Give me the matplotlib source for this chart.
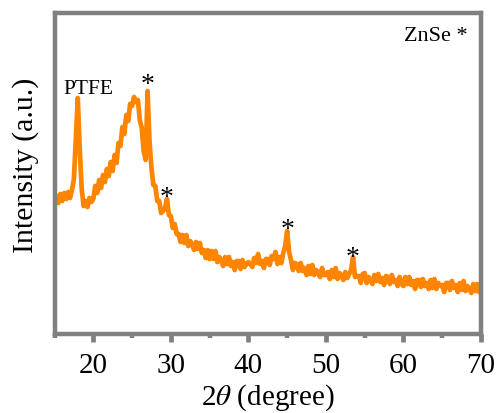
import numpy as np
import matplotlib
matplotlib.use("Agg")
import matplotlib.pyplot as plt
from matplotlib.ticker import MultipleLocator

plt.rcParams["font.family"] = ["Liberation Serif", "DejaVu Serif"]
plt.rcParams["mathtext.fontset"] = "stix"

# XRD scan, 2theta from 15 to 70 degrees in 0.25 degree steps
two_theta = np.arange(15.0, 70.001, 0.25)

intensity_15_20 = [126, 136, 129, 138, 131, 139, 133, 140, 134, 142,
                   153, 193, 234, 183, 144, 126, 131, 125, 134, 130]
intensity_20_25 = [133, 146, 139, 152, 144, 157, 150, 163, 156, 170,
                   161, 177, 169, 189, 186, 205, 198, 217, 211, 228]
intensity_25_30 = [226, 235, 230, 232, 212, 204, 181, 172, 241, 190,
                   164, 147, 146, 131, 131, 119, 121, 124, 133, 117]
intensity_30_35 = [116, 104, 108, 98, 98, 90, 97, 89, 97, 86,
                   91, 87, 82, 90, 83, 89, 79, 82, 74, 82]
intensity_35_40 = [73, 81, 73, 81, 70, 75, 71, 66, 75, 68,
                   75, 66, 70, 62, 71, 71, 63, 72, 65, 68]
intensity_40_45 = [70, 68, 65, 74, 69, 78, 68, 71, 64, 73,
                   73, 67, 76, 73, 80, 68, 75, 69, 79, 86]
intensity_45_50 = [101, 80, 72, 62, 69, 68, 61, 69, 61, 64,
                   57, 66, 58, 67, 57, 62, 59, 55, 64, 57]
intensity_50_55 = [57, 60, 53, 62, 55, 64, 53, 59, 56, 52,
                   60, 54, 58, 62, 75, 55, 56, 56, 49, 58]
intensity_55_60 = [59, 49, 55, 52, 48, 57, 51, 58, 50, 54,
                   47, 56, 55, 48, 57, 50, 52, 46, 55, 48]
intensity_60_65 = [46, 55, 48, 55, 47, 51, 43, 52, 52, 45,
                   53, 46, 49, 43, 52, 44, 53, 43, 49, 46]
intensity_65_70 = [47, 40, 49, 49, 42, 51, 44, 47, 40, 49,
                   42, 51, 41, 46, 43, 39, 48, 41, 48, 40, 44]

intensity = np.array(intensity_15_20 + intensity_20_25 + intensity_25_30 +
                     intensity_30_35 + intensity_35_40 + intensity_40_45 +
                     intensity_45_50 + intensity_50_55 + intensity_55_60 +
                     intensity_60_65 + intensity_65_70, dtype=float)

# ZnSe reflections marked with asterisks
znse_peaks = [27.0, 29.5, 45.0, 53.5]
star_offsets = [-4, -8, -8, -9]

spine_grey = "#808080"
line_orange = "#ff8400"

fig = plt.figure(figsize=(4.97, 4.14), dpi=100)
ax = fig.add_axes([0.1097, 0.1908, 0.8581, 0.7742])

ax.plot(two_theta, intensity, color=line_orange, lw=3.4, solid_joinstyle="round")

ax.set_xlim(15, 70)
ax.set_ylim(-2, 318.5)
ax.xaxis.set_major_locator(MultipleLocator(10))
ax.xaxis.set_minor_locator(MultipleLocator(5))
ax.set_yticks([])

for s in ax.spines.values():
    s.set_color(spine_grey)
    s.set_linewidth(3.2)

ax.tick_params(axis="x", which="major", direction="out", length=6,
               width=3.4, color=spine_grey, labelsize=21, pad=7)
ax.tick_params(axis="x", which="minor", direction="out", length=3,
               width=3.2, color=spine_grey)

ax.set_xlabel(r"2$\theta$ (degree)", fontsize=21, labelpad=2.5)
ax.set_ylabel("Intensity (a.u.)", fontsize=21.5, va="center")
ax.yaxis.set_label_coords(-0.068, 0.529)

for xp, off in zip(znse_peaks, star_offsets):
    yp = intensity[np.argmin(np.abs(two_theta - xp))]
    ax.annotate("*", xy=(xp, yp), xytext=(0, off), textcoords="offset points",
                ha="center", va="bottom", fontsize=20)

ptfe_x = 18.0
ptfe_y = intensity[np.argmin(np.abs(two_theta - ptfe_x))]
ax.annotate("PTFE", xy=(ptfe_x, ptfe_y), xytext=(8, 0), textcoords="offset points",
            ha="center", va="bottom", fontsize=15.5)

ax.text(0.968, 0.962, "ZnSe *", transform=ax.transAxes, ha="right", va="top",
        fontsize=16)

fig.savefig("out.png", dpi=100)
